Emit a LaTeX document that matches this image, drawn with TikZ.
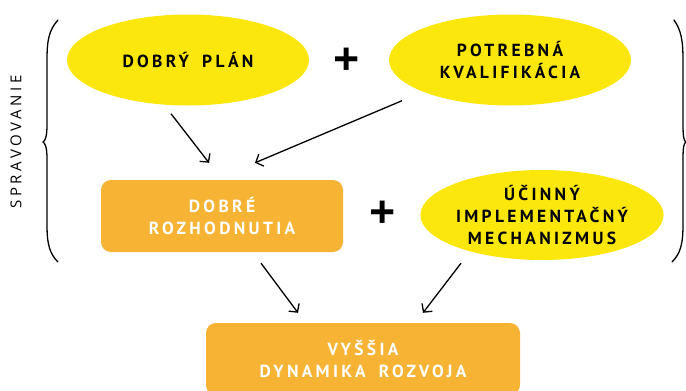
\documentclass[tikz,border=0pt]{standalone}
\usepackage{fontspec}
\setmainfont{Open Sans}
\newfontfamily\spaced[LetterSpace=19,WordSpace=1.7]{PT Sans}
\newfontfamily\spacedlight[LetterSpace=24]{Open Sans}
\usetikzlibrary{arrows.meta,shapes.geometric}
\definecolor{zlta}{HTML}{FCE70C}
\definecolor{oranz}{HTML}{F7B334}
\tikzset{
  oval/.style={ellipse, fill=zlta, minimum width=242pt, minimum height=91pt, inner sep=0pt,
    align=center, font=\spaced\bfseries\fontsize{17.5}{22}\selectfont},
  krabica/.style={rounded corners=10pt, fill=oranz, text=white, inner sep=0pt,
    align=center, font=\spaced\bfseries\fontsize{17.5}{22}\selectfont},
  plus/.style={font=\bfseries\fontsize{46}{46}\selectfont, inner sep=0pt},
  sipka/.style={-{Straight Barb[length=6pt,width=13pt]}, line width=1.3pt},
  zatvorka/.style={line width=1.3pt, line cap=round}
}
\begin{document}
\begin{tikzpicture}[x=1pt,y=-1pt]
  \useasboundingbox (0,0) rectangle (686,391);
  % ovaly a krabice
  \node[oval] (plan) at (188,60) {DOBRÝ PLÁN};
  \node[oval] (kval) at (510,60) {POTREBNÁ\\KVALIFIKÁCIA};
  \node[oval, minimum height=90pt] (mech) at (542,215) {ÚČINNÝ\\IMPLEMENTAČNÝ\\MECHANIZMUS};
  \node[krabica, minimum width=242pt, minimum height=72pt] (rozh) at (222,216) {DOBRÉ\\ROZHODNUTIA};
  \node[krabica, minimum width=314pt, minimum height=72pt] (dyn) at (363,359) {VYŠŠIA\\DYNAMIKA ROZVOJA};
  \node[plus] (plus1) at (347,62) {+};
  \node[plus] (plus2) at (383,215) {+};

  % sipky
  \draw[sipka] ([xshift=-17pt,yshift=-8pt]plan.south) -- ([xshift=-13pt,yshift=17pt]rozh.north);
  \draw[sipka] ([xshift=-108pt,yshift=5pt]kval.south) -- ([xshift=33pt,yshift=17pt]rozh.north);
  \draw[sipka] ([xshift=39pt,yshift=-11pt]rozh.south) -- ([xshift=-65pt,yshift=10pt]dyn.north);
  \draw[sipka] ([xshift=-81pt,yshift=-3pt]mech.south) -- ([xshift=60pt,yshift=10pt]dyn.north);

  % zatvorky
  \draw[zatvorka] (58,20) .. controls (49,30) and (47,40) .. (47,60) -- (47,125)
    .. controls (47,137) and (45,141) .. (43,142) .. controls (45,143) and (47,147) .. (47,159)
    -- (47,225) .. controls (47,245) and (50,254) .. (58,262);
  \draw[zatvorka] (674,20) .. controls (681,30) and (683,40) .. (683,60) -- (683,125)
    .. controls (683,137) and (684,141) .. (686,142) .. controls (684,143) and (683,147) .. (683,159)
    -- (683,225) .. controls (683,245) and (680,254) .. (672,262);
  \node[rotate=90, font=\spacedlight\fontsize{15}{15}\selectfont] (sprav) at (16,142) {SPRAVOVANIE};
\end{tikzpicture}
\end{document}
